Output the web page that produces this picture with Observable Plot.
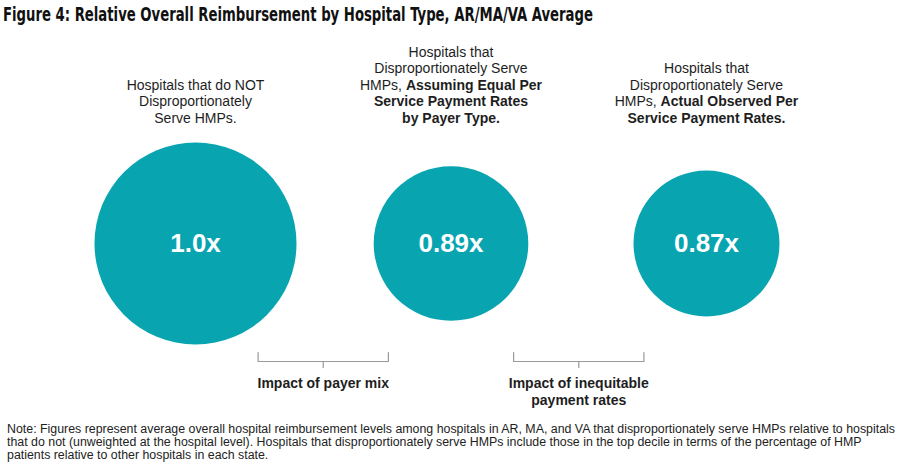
<!DOCTYPE html>
<html>
<head>
<meta charset="utf-8">
<script src="https://cdn.jsdelivr.net/npm/d3@7"></script>
<script src="https://cdn.jsdelivr.net/npm/@observablehq/plot@0.6"></script>
<style>
  html, body { margin: 0; padding: 0; background: #fff; }
  body { width: 905px; height: 465px; overflow: hidden; color: #1e1e1e;
         font-family: "Liberation Sans", Arial, sans-serif; }
  #title { height: 28px; white-space: nowrap; }
  #title span { display: inline-block; margin-left: 3px; font-family: "Liberation Sans Narrow", "DejaVu Sans Condensed", "Liberation Sans", sans-serif;
                font-weight: bold; font-size: 20px; line-height: 28px; transform-origin: 0 50%; color: #111; }
  #chart svg { display: block; }
  #note { margin-left: 7px; padding-top: 1px; white-space: nowrap; transform-origin: 0 0; display: inline-block;
          font-size: 12px; line-height: 13px; color: #222; }
</style>
</head>
<body>
<div id="title"><span>Figure 4: Relative Overall Reimbursement by Hospital Type, AR/MA/VA Average</span></div>
<div id="chart"></div>
<div id="note"></div>
<script>
// ---- data ----
const categories = ["Not disproportionate", "Disproportionate, equal rates", "Disproportionate, observed rates"];
const values = [1.0, 0.89, 0.87];
const valueLabels = ["1.0x", "0.89x", "0.87x"];
const headings = [
  "Hospitals that do NOT\nDisproportionately\nServe HMPs.",
  "Hospitals that\nDisproportionately Serve\nHMPs, *Assuming Equal Per\nService Payment Rates\nby Payer Type.*",
  "Hospitals that\nDisproportionately Serve\nHMPs, *Actual Observed Per\nService Payment Rates.*"
];
const bracketLabels = ["Impact of payer mix", "Impact of inequitable\npayment rates"];
const noteLines = [
  "Note: Figures represent average overall hospital reimbursement levels among hospitals in AR, MA, and VA that disproportionately serve HMPs relative to hospitals",
  "that do not (unweighted at the hospital level). Hospitals that disproportionately serve HMPs include those in the top decile in terms of the percentage of HMP",
  "patients relative to other hospitals in each state."
];

// ---- layout / style constants ----
const teal = "#08a5b1";
const headingBaseline = 94, circleY = 215;
const bracketTop = 324, bracketMid = 333, bracketTick = 340, bracketLabelY = 348;
const bracketHalf = 0.255;

const items = categories.map((c, i) => ({i, category: c, value: values[i], label: valueLabels[i], heading: headings[i]}));
const brackets = bracketLabels.map((t, j) => ({x: j + 0.5, label: t}));
const bracketPath = brackets.flatMap((b, j) => [
  {j, x: b.x - bracketHalf, y: bracketTop},
  {j, x: b.x - bracketHalf, y: bracketMid},
  {j, x: b.x + bracketHalf, y: bracketMid},
  {j, x: b.x + bracketHalf, y: bracketTop}
]);

const plot = Plot.plot({
  width: 905,
  height: 394,
  marginLeft: 195, marginRight: 199, marginTop: 0, marginBottom: 0,
  x: {type: "linear", domain: [0, categories.length - 1], axis: null},
  y: {type: "identity", axis: null},
  r: {type: "linear", domain: d3.extent(values), range: [73, 101]},
  style: {fontFamily: "'Liberation Sans', Arial, sans-serif", background: "white", overflow: "visible"},
  marks: [
    Plot.dot(items, {x: "i", y: () => circleY, r: "value", fill: teal, stroke: "none"}),
    Plot.text(items, {x: "i", y: () => circleY, text: "label", fill: "white", fontSize: 26, fontWeight: "bold", lineAnchor: "middle"}),
    Plot.text(items, {x: "i", y: () => headingBaseline, text: "heading", fill: "#1e1e1e", fontSize: 14, lineHeight: 1.17, lineAnchor: "bottom", className: "headings"}),
    Plot.line(bracketPath, {x: "x", y: "y", z: "j", stroke: "#9a9a9a", strokeWidth: 1.2, strokeLinejoin: "round"}),
    Plot.ruleX(brackets, {x: "x", y1: () => bracketMid, y2: () => bracketTick, stroke: "#9a9a9a", strokeWidth: 1.2}),
    Plot.text(brackets, {x: "x", y: () => bracketLabelY, text: "label", fill: "#1e1e1e", fontSize: 14, fontWeight: "bold", lineHeight: 1.2, lineAnchor: "top"})
  ]
});
document.getElementById("chart").appendChild(plot);

// mixed weights in headings: text between * is bold
const svgNS = "http://www.w3.org/2000/svg";
plot.querySelectorAll("g.headings text").forEach(t => {
  let bold = false;
  const lines = t.querySelectorAll("tspan").length ? Array.from(t.querySelectorAll("tspan")) : [t];
  lines.forEach(ts => {
    const parts = ts.textContent.split("*");
    ts.textContent = "";
    parts.forEach((p, k) => {
      if (k > 0) bold = !bold;
      if (!p) return;
      const s = document.createElementNS(svgNS, "tspan");
      s.textContent = p;
      if (bold) s.setAttribute("font-weight", "bold");
      ts.appendChild(s);
    });
  });
});

// note
const note = document.getElementById("note");
noteLines.forEach(l => { const d = document.createElement("div"); d.textContent = l; note.appendChild(d); });
note.firstChild.style.display = "inline-block";
const lw = note.firstChild.getBoundingClientRect().width;
note.firstChild.style.display = "";
note.style.transform = `scaleX(${888 / lw})`;

// title width
const ts = document.querySelector("#title span");
ts.style.transform = `scaleX(${590 / ts.getBoundingClientRect().width})`;
</script>
</body>
</html>
